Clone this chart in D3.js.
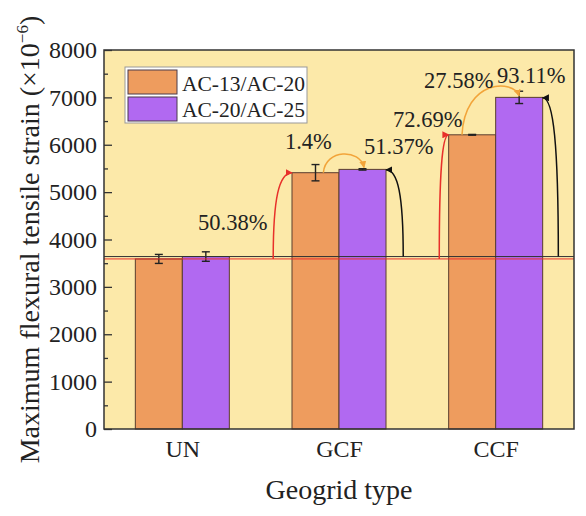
<!DOCTYPE html>
<html>
<head>
<meta charset="utf-8">
<script src="https://cdn.jsdelivr.net/npm/d3@7"></script>
<style>
  body { margin: 0; background: #fff; }
</style>
</head>
<body>
<div id="svg-container"></div>
<script>
////////////////////////////////////////////////////////////////////
////////////////////////////  Data  ////////////////////////////////
const categories = ["UN", "GCF", "CCF"];
const seriesNames = ["AC-13/AC-20", "AC-20/AC-25"];
const strainA = [3590, 5410, 6210]; // AC-13/AC-20
const strainB = [3640, 5480, 7000]; // AC-20/AC-25
const errA = [95, 172, 8];
const errB = [100, 15, 130];
const yTicks = [0, 1000, 2000, 3000, 4000, 5000, 6000, 7000, 8000];

// arrows (x in category units, y in strain units)
const arrows = [
  { color: "red", x0: 1.58, y0: 3590, x1: 1.70, y1: 5410 },
  { color: "black", x0: 2.41, y0: 3640, x1: 2.30, y1: 5470 },
  { color: "red", x0: 2.64, y0: 3590, x1: 2.70, y1: 6210 },
  { color: "black", x0: 3.40, y0: 3640, x1: 3.30, y1: 6990 },
];
const hops = [
  { x0: 1.90, y0: 5410, x1: 2.16, y1: 5520, peak: 5805 },
  { x0: 2.785, y0: 6210, x1: 3.15, y1: 7030, peak: 7198 },
];
const labels = [
  { text: "50.38%", x: 1.10, y: 4200 },
  { text: "1.4%", x: 1.655, y: 5910 },
  { text: "51.37%", x: 2.16, y: 5805 },
  { text: "72.69%", x: 2.345, y: 6375 },
  { text: "27.58%", x: 2.543, y: 7198 },
  { text: "93.11%", x: 3.008, y: 7303 },
];

////////////////////////////////////////////////////////////////////
////////////////////////////  Init  ////////////////////////////////
const width = 586, height = 516;
const margin = { top: 50, right: 12, bottom: 87, left: 104 };
const font = "'Liberation Serif', 'Times New Roman', serif";
const colA = "#ee9c5e", colB = "#b169f1";
const arrowCol = { red: "#e8302a", black: "#111", orange: "#f2a43a" };

const svg = d3.select("#svg-container").append("svg")
  .attr("width", width).attr("height", height)
  .attr("font-family", font);

const x = d3.scaleLinear().domain([0.5, 3.5]).range([margin.left, width - margin.right]);
const y = d3.scaleLinear().domain([0, 8000]).range([height - margin.bottom, margin.top]);
const barW = 0.3;

// markers
const defs = svg.append("defs");
Object.entries(arrowCol).forEach(([k, c]) => {
  defs.append("marker")
    .attr("id", "ah-" + k)
    .attr("viewBox", "0 0 10 10")
    .attr("refX", 9).attr("refY", 5)
    .attr("markerWidth", 7).attr("markerHeight", 7)
    .attr("markerUnits", "userSpaceOnUse")
    .attr("orient", "auto")
    .append("path").attr("d", "M0,0 L10,5 L0,10 Z").attr("fill", c);
});

// background
svg.append("rect")
  .attr("x", x(0.5)).attr("y", y(8000))
  .attr("width", x(3.5) - x(0.5)).attr("height", y(0) - y(8000))
  .attr("fill", "#fce9a9");

// bars
const bars = svg.append("g");
[[strainA, colA, -barW], [strainB, colB, 0]].forEach(([vals, col, off]) => {
  bars.selectAll(null).data(vals).join("rect")
    .attr("x", (d, i) => x(i + 1 + off))
    .attr("y", (d) => y(d))
    .attr("width", x(1 + barW) - x(1))
    .attr("height", (d) => y(0) - y(d))
    .attr("fill", col)
    .attr("stroke", "#5a3e2e")
    .attr("stroke-width", 1);
});

// error bars
const eb = svg.append("g").attr("stroke", "#222").attr("stroke-width", 1.4);
[[strainA, errA, -barW / 2], [strainB, errB, barW / 2]].forEach(([vals, errs, off]) => {
  vals.forEach((v, i) => {
    const cx = x(i + 1 + off);
    const t = y(v + errs[i]), b = y(v - errs[i]);
    eb.append("line").attr("x1", cx).attr("x2", cx).attr("y1", t).attr("y2", b);
    eb.append("line").attr("x1", cx - 4).attr("x2", cx + 4).attr("y1", t).attr("y2", t);
    eb.append("line").attr("x1", cx - 4).attr("x2", cx + 4).attr("y1", b).attr("y2", b);
  });
});

// reference lines
svg.append("line")
  .attr("x1", x(0.5)).attr("x2", x(3.5))
  .attr("y1", y(strainB[0])).attr("y2", y(strainB[0]))
  .attr("stroke", "#333").attr("stroke-width", 1);
svg.append("line")
  .attr("x1", x(0.5)).attr("x2", x(3.5))
  .attr("y1", y(strainA[0])).attr("y2", y(strainA[0]))
  .attr("stroke", arrowCol.red).attr("stroke-width", 1);

// rising arrows
arrows.forEach((a) => {
  const p0 = [x(a.x0), y(a.y0)], p1 = [x(a.x1), y(a.y1)];
  const c1 = [p0[0], p0[1] + 0.7 * (p1[1] - p0[1])];
  const c2 = [p0[0] + 0.3 * (p1[0] - p0[0]), p1[1]];
  const p = d3.path();
  p.moveTo(...p0);
  p.bezierCurveTo(...c1, ...c2, ...p1);
  svg.append("path").attr("d", p.toString())
    .attr("fill", "none").attr("stroke", arrowCol[a.color]).attr("stroke-width", 1.5)
    .attr("marker-end", `url(#ah-${a.color})`);
});

// hop arrows
hops.forEach((h) => {
  const p0 = [x(h.x0), y(h.y0)], p1 = [x(h.x1), y(h.y1)];
  const top = (y(h.peak) - (p0[1] + p1[1]) / 8) / 0.75;
  const p = d3.path();
  p.moveTo(...p0);
  p.bezierCurveTo(p0[0] + 0.05 * (p1[0] - p0[0]), top, p1[0] - 0.1 * (p1[0] - p0[0]), top, ...p1);
  svg.append("path").attr("d", p.toString())
    .attr("fill", "none").attr("stroke", arrowCol.orange).attr("stroke-width", 1.5)
    .attr("marker-end", "url(#ah-orange)");
});

// labels
svg.selectAll(".pct").data(labels).join("text")
  .attr("class", "pct")
  .attr("x", (d) => x(d.x)).attr("y", (d) => y(d.y))
  .attr("font-size", 22.5).attr("fill", "#222")
  .text((d) => d.text);

// axes
const yAxis = svg.append("g")
  .attr("transform", `translate(${x(0.5)},0)`)
  .call(d3.axisLeft(y).tickValues(yTicks).tickSize(-8).tickPadding(7).tickFormat(d3.format("d")));
svg.append("g")
  .attr("transform", `translate(${x(0.5)},0)`)
  .call(d3.axisLeft(y).tickValues(d3.range(500, 8000, 1000)).tickSize(-4).tickFormat(""));

const xAxis = svg.append("g")
  .attr("transform", `translate(0,${y(0)})`)
  .call(d3.axisBottom(x).tickValues([1, 2, 3]).tickSize(0).tickPadding(11)
    .tickFormat((d) => categories[d - 1]));

svg.selectAll(".tick text").attr("font-size", 24).attr("font-family", font).attr("fill", "#222");
svg.selectAll(".domain").remove();
svg.selectAll(".tick line").attr("stroke", "#333").attr("stroke-width", 1.3);

// frame
svg.append("rect")
  .attr("x", x(0.5)).attr("y", y(8000))
  .attr("width", x(3.5) - x(0.5)).attr("height", y(0) - y(8000))
  .attr("fill", "none").attr("stroke", "#333").attr("stroke-width", 1.5);

// legend
const lg = svg.append("g");
lg.append("rect")
  .attr("x", 125).attr("y", 67).attr("width", 182).attr("height", 56)
  .attr("fill", "#fff").attr("stroke", "#999").attr("stroke-width", 1);
seriesNames.forEach((s, i) => {
  lg.append("rect")
    .attr("x", 128).attr("y", 70 + i * 27).attr("width", 49).attr("height", 24)
    .attr("fill", i === 0 ? colA : colB).attr("stroke", "#4a3a4a").attr("stroke-width", 1);
  lg.append("text")
    .attr("x", 182).attr("y", 91 + i * 26)
    .attr("font-size", 21.5).attr("fill", "#222")
    .text(s);
});

// titles
svg.append("text")
  .attr("x", (x(0.5) + x(3.5)) / 2).attr("y", 499)
  .attr("text-anchor", "middle").attr("font-size", 28).attr("fill", "#222")
  .text("Geogrid type");

const yt = svg.append("text")
  .attr("transform", `translate(39,${(y(0) + y(8000)) / 2}) rotate(-90)`)
  .attr("text-anchor", "middle").attr("font-size", 28).attr("fill", "#222");
yt.append("tspan").text("Maximum flexural tensile strain (×10");
yt.append("tspan").attr("font-size", 17).attr("dy", -11).text("−6");
yt.append("tspan").attr("dy", 11).text(")");
</script>
</body>
</html>
